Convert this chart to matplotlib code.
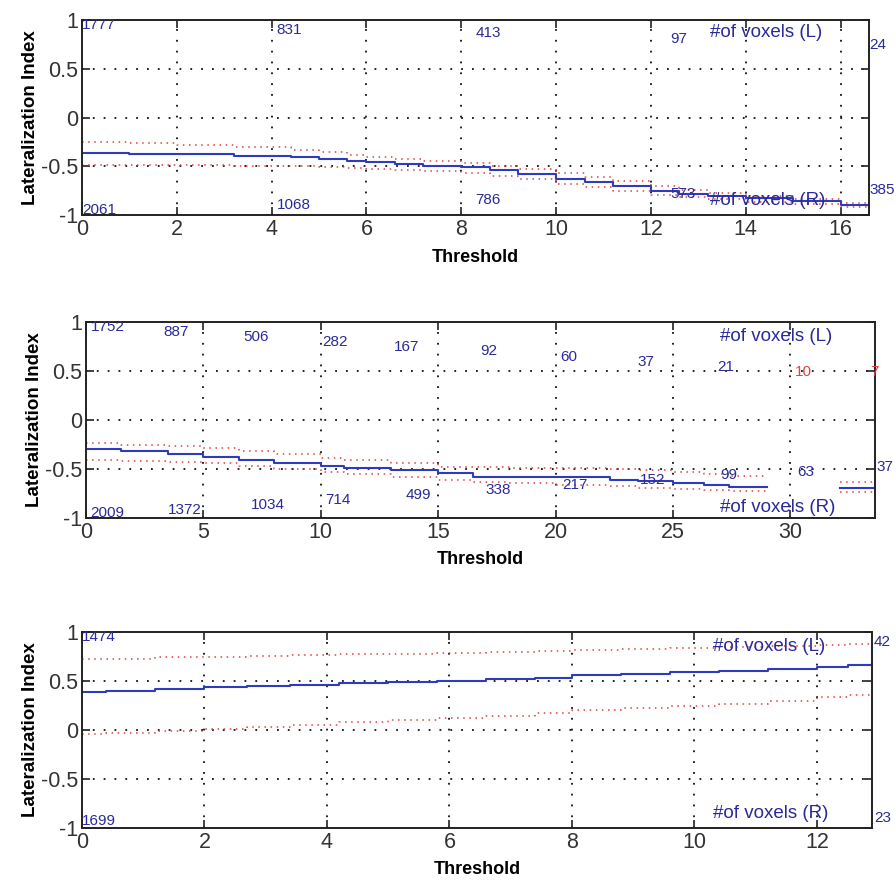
import numpy as np
import matplotlib
matplotlib.use("Agg")
import matplotlib.pyplot as plt

plt.rcParams['font.family'] = ['Liberation Sans', 'DejaVu Sans']

# ---------------- data ----------------
# Panel 1
p1_x = [0, 1, 2, 3.2, 4.4, 5, 5.6, 6, 6.6, 7.2, 8, 8.6, 9.2, 10, 10.6, 11.2, 12, 12.6, 13.2, 14, 15, 16, 16.6]
p1_mid = [-0.36, -0.37, -0.37, -0.39, -0.41, -0.43, -0.45, -0.46, -0.48, -0.50, -0.51, -0.54, -0.58, -0.63,
          -0.66, -0.70, -0.75, -0.78, -0.80, -0.83, -0.86, -0.90, -0.92]
p1_up = [-0.25, -0.26, -0.28, -0.30, -0.33, -0.35, -0.38, -0.40, -0.43, -0.45, -0.47, -0.50, -0.53, -0.57,
         -0.61, -0.65, -0.70, -0.74, -0.77, -0.80, -0.84, -0.88, -0.90]
p1_lo = [-0.49, -0.49, -0.49, -0.50, -0.50, -0.51, -0.52, -0.53, -0.54, -0.55, -0.57, -0.60, -0.63, -0.68,
         -0.71, -0.75, -0.79, -0.82, -0.84, -0.87, -0.89, -0.92, -0.94]
p1_xlim = 16.6
p1_xticks = [0, 2, 4, 6, 8, 10, 12, 14, 16]
p1_L = [(0.0, 0.95, '1777'), (4.1, 0.9, '831'), (8.3, 0.87, '413'), (12.4, 0.81, '97'), (16.6, 0.74, '24')]
p1_R = [(0.0, -0.95, '2061'), (4.1, -0.9, '1068'), (8.3, -0.85, '786'), (12.4, -0.78, '573'), (16.6, -0.74, '385')]
p1_lab = [(13.25, 0.87, '#of voxels (L)'), (13.25, -0.85, '#of voxels (R)')]

# Panel 2
p2_x = [0, 1.5, 3.5, 5, 6.5, 8, 10, 11, 13, 15, 16.5, 18, 20, 22.3, 23.5, 25, 26.3, 27.4, 29.0, 32.1, 33.6]
p2_mid = [-0.30, -0.32, -0.35, -0.38, -0.41, -0.44, -0.47, -0.49, -0.51, -0.54, -0.58, -0.58, -0.58, -0.61,
          -0.62, -0.64, -0.66, -0.68, np.nan, -0.69, -0.69]
p2_up = [-0.23, -0.25, -0.27, -0.29, -0.32, -0.35, -0.39, -0.41, -0.44, -0.48, -0.48, -0.49, -0.49, -0.50,
         -0.51, -0.53, -0.55, -0.57, np.nan, -0.63, -0.63]
p2_lo = [-0.41, -0.42, -0.43, -0.44, -0.47, -0.50, -0.53, -0.55, -0.58, -0.61, -0.63, -0.64, -0.66, -0.67,
         -0.69, -0.70, -0.71, -0.72, np.nan, -0.73, -0.73]
p2_xlim = 33.6
p2_xticks = [0, 5, 10, 15, 20, 25, 30]
p2_L = [(0.2, 0.95, '1752'), (3.3, 0.9, '887'), (6.7, 0.85, '506'), (10.05, 0.8, '282'), (13.1, 0.74, '167'),
        (16.8, 0.7, '92'), (20.2, 0.64, '60'), (23.5, 0.59, '37'), (26.9, 0.54, '21'), (30.2, 0.49, '10'),
        (33.4, 0.49, '7')]
p2_R = [(0.2, -0.95, '2009'), (3.5, -0.92, '1372'), (7.0, -0.87, '1034'), (10.2, -0.82, '714'),
        (13.6, -0.77, '499'), (17.0, -0.71, '338'), (20.3, -0.66, '217'), (23.6, -0.61, '152'),
        (27.0, -0.56, '99'), (30.3, -0.53, '63'), (33.65, -0.48, '37')]
p2_red = ['10', '7']
p2_lab = [(27.0, 0.85, '#of voxels (L)'), (27.0, -0.89, '#of voxels (R)')]

# Panel 3
p3_x = [0, 0.4, 1.2, 2, 2.7, 3.4, 4.2, 5, 5.8, 6.6, 7.4, 8, 8.8, 9.6, 10.4, 11.2, 12, 12.5, 12.9]
p3_mid = [0.39, 0.40, 0.42, 0.44, 0.45, 0.46, 0.48, 0.49, 0.50, 0.52, 0.53, 0.56, 0.57, 0.59, 0.60,
          0.62, 0.64, 0.66, 0.67]
p3_up = [0.72, 0.72, 0.74, 0.75, 0.76, 0.77, 0.78, 0.78, 0.79, 0.80, 0.81, 0.82, 0.83, 0.84, 0.85,
         0.86, 0.87, 0.88, 0.88]
p3_lo = [-0.04, -0.03, -0.01, 0.01, 0.03, 0.05, 0.08, 0.10, 0.12, 0.14, 0.17, 0.20, 0.22, 0.25, 0.27,
         0.30, 0.34, 0.36, 0.37]
p3_xlim = 12.9
p3_xticks = [0, 2, 4, 6, 8, 10, 12]
p3_L = [(0.0, 0.95, '1474'), (12.93, 0.9, '42')]
p3_R = [(0.0, -0.93, '1699'), (12.93, -0.9, '23')]
p3_lab = [(10.3, 0.85, '#of voxels (L)'), (10.3, -0.85, '#of voxels (R)')]

yticks = [-1, -0.5, 0, 0.5, 1]
ytick_labels = ['-1', '-0.5', '0', '0.5', '1']

# ---------------- style ----------------
BLUE = '#2e3bbf'
TXT = '#2a2a9a'
RED = '#e0403f'

fig = plt.figure(figsize=(8.96, 8.83), dpi=100)
positions = [
    [82 / 896, 1 - 215 / 883, 787 / 896, 195 / 883],
    [86 / 896, 1 - 518 / 883, 789 / 896, 196 / 883],
    [82 / 896, 1 - 828 / 883, 790 / 896, 196 / 883],
]

panels = [
    (p1_x, p1_mid, p1_up, p1_lo, p1_xlim, p1_xticks, p1_L, p1_R, p1_lab, []),
    (p2_x, p2_mid, p2_up, p2_lo, p2_xlim, p2_xticks, p2_L, p2_R, p2_lab, p2_red),
    (p3_x, p3_mid, p3_up, p3_lo, p3_xlim, p3_xticks, p3_L, p3_R, p3_lab, []),
]

for pos, (x, mid, up, lo, xlim, xticks, L, R, lab, reds) in zip(positions, panels):
    ax = fig.add_axes(pos)
    ax.plot(x, up, color=RED, lw=1.1, ls=(0, (1, 3)), drawstyle='steps-post')
    ax.plot(x, lo, color=RED, lw=1.1, ls=(0, (1, 3)), drawstyle='steps-post')
    ax.plot(x, mid, color=BLUE, lw=1.5, drawstyle='steps-post')
    ax.set_xlim(0, xlim)
    ax.set_ylim(-1, 1)
    ax.set_xticks(xticks)
    ax.set_yticks(yticks)
    ax.set_yticklabels(ytick_labels)
    ax.grid(True, color='#111111', ls=(0, (1, 5)), lw=1.3)
    ax.tick_params(direction='in', top=True, right=True, labelsize=15.5, length=6, width=1.3,
                   colors='#333333', pad=3)
    for s in ax.spines.values():
        s.set_linewidth(1.4)
        s.set_color('#222222')
    ax.set_xlabel('Threshold', fontsize=13, fontweight='bold', labelpad=6)
    ax.set_ylabel('Lateralization Index', fontsize=13.5, fontweight='bold', labelpad=1)
    for (tx, ty, t) in L + R:
        c = RED if t in reds and ty > 0 else TXT
        ax.text(tx, ty, t, color=c, fontsize=11, ha='left', va='center', clip_on=False)
    for (tx, ty, t) in lab:
        ax.text(tx, ty, t, color=TXT, fontsize=13.5, ha='left', va='center')

fig.savefig('out.png', dpi=100)
